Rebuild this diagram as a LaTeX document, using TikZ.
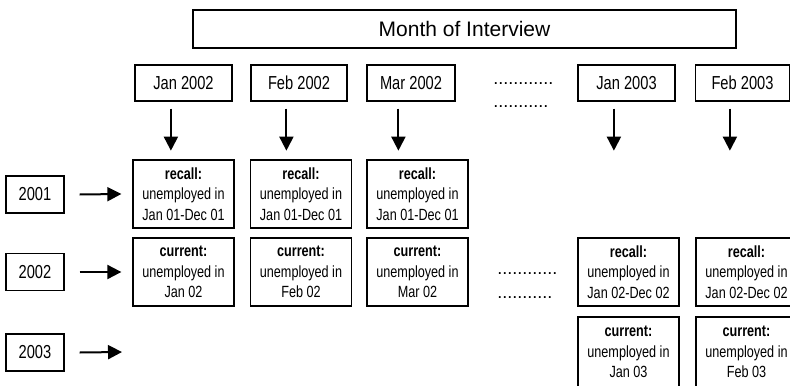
\documentclass[tikz,border=0pt]{standalone}
\usepackage{fontspec}
\setmainfont{Liberation Sans}
\newfontfamily\narrowfont{Liberation Sans}[FakeStretch=0.78]
\usetikzlibrary{arrows.meta}

\begin{document}
\begin{tikzpicture}[x=0.5pt,y=-0.5pt,
  box/.style={draw,line width=0.65pt,inner sep=0pt,align=center},
  month/.style={box,minimum height=18pt,font=\narrowfont\fontsize{9.4}{11}\selectfont},
  year/.style={box,minimum width=29pt,minimum height=18.5pt,font=\narrowfont\fontsize{9.4}{11}\selectfont},
  cell/.style={box,minimum width=50.5pt,minimum height=34pt,font=\narrowfont\fontsize{8.1}{10.3}\selectfont},
  arr/.style={line width=1pt,-{Triangle[length=7pt,width=7pt]}},
  dots/.style={anchor=base west,inner sep=0pt,font=\fontsize{9}{11}\selectfont}]
  \useasboundingbox (0,0) rectangle (790,385);

  % Title
  \node[box,minimum width=271.5pt,minimum height=19pt,font=\fontsize{10.5}{12}\selectfont] (title) at (464.5,29) {Month of Interview};

  % Months of interview
  \node[month,minimum width=48.5pt] (m1) at (183.5,83) {Jan 2002};
  \node[month,minimum width=48pt] (m2) at (299,83) {Feb 2002};
  \node[month,minimum width=44pt] (m3) at (411,83) {Mar 2002};
  \node[month,minimum width=48.5pt] (m4) at (626.5,83) {Jan 2003};
  \node[month,minimum width=47pt] (m5) at (742.5,83) {Feb 2003};
  \node[dots] (d1) at (493,84.5) {............};
  \node[dots] (d2) at (493,107.5) {...........};

  % Down arrows
  \foreach \i in {1,...,5}
    \draw[arr] ([xshift=-6.3pt,yshift=-3.5pt]m\i.south) -- ++(0,42);

  % Years
  \node[year] (y1) at (35,194.5) {2001};
  \node[year] (y2) at (35,272) {2002};
  \node[year] (y3) at (35,352.5) {2003};
  \coordinate (e3) at (122,352);

  % Row 2001
  \node[cell] (a1) at (183.5,194) {\textbf{recall:}\\unemployed in\\Jan 01-Dec 01};
  \node[cell] (a2) at (301,194) {\textbf{recall:}\\unemployed in\\Jan 01-Dec 01};
  \node[cell] (a3) at (417.5,194) {\textbf{recall:}\\unemployed in\\Jan 01-Dec 01};

  % Row 2002
  \node[cell] (b1) at (183.5,272) {\textbf{current:}\\unemployed in\\Jan 02};
  \node[cell] (b2) at (301,272) {\textbf{current:}\\unemployed in\\Feb 02};
  \node[cell] (b3) at (417.5,272) {\textbf{current:}\\unemployed in\\Mar 02};
  \node[dots] (d3) at (497,274.5) {............};
  \node[dots] (d4) at (497,298.5) {...........};
  \node[cell] (b4) at (628.5,272) {\textbf{recall:}\\unemployed in\\Jan 02-Dec 02};
  \node[cell] (b5) at (746.5,272) {\textbf{recall:}\\unemployed in\\Jan 02-Dec 02};

  % Row 2003
  \node[cell,minimum height=35pt] (c4) at (628.5,352) {\textbf{current:}\\unemployed in\\Jan 03};
  \node[cell,minimum height=35pt] (c5) at (746.5,352) {\textbf{current:}\\unemployed in\\Feb 03};

  % Year arrows
  \draw[arr] ([xshift=7.5pt]y1.east) -- ([xshift=-5.5pt]a1.west);
  \draw[arr] ([xshift=7.5pt]y2.east) -- ([xshift=-5.5pt]b1.west);
  \draw[arr] ([xshift=7.5pt]y3.east) -- (e3);
\end{tikzpicture}
\end{document}
